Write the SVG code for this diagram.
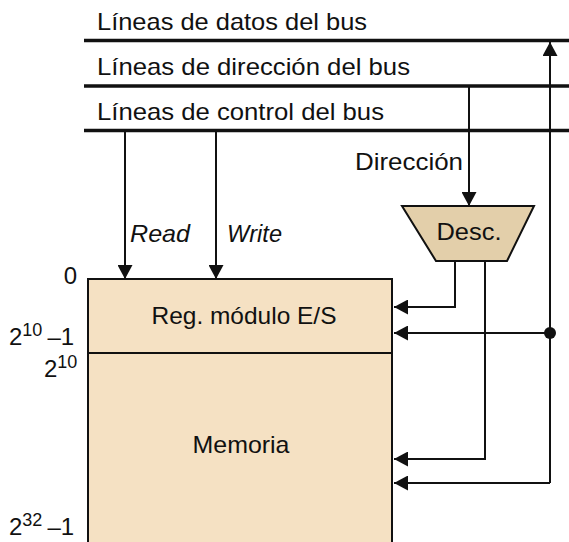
<svg xmlns="http://www.w3.org/2000/svg" width="569" height="542" viewBox="0 0 569 542">
<style>
text{font-family:"Liberation Sans",Arial,sans-serif;fill:#111}
.lbl{font-size:24px}
.sup{font-size:18px}
.bus{stroke:#111;stroke-width:3.5;fill:none}
.wire{stroke:#111;stroke-width:2;fill:none}
</style>
<defs>
<marker id="ah" markerUnits="userSpaceOnUse" markerWidth="15" markerHeight="15" refX="14" refY="7.5" orient="auto">
<path d="M0,0 L14,7.5 L0,15 z" fill="#111"/>
</marker>
</defs>
<g id="buses">
<line class="bus" x1="84" y1="40.5" x2="569" y2="40.5"/>
<line class="bus" x1="84" y1="86" x2="569" y2="86"/>
<line class="bus" x1="84" y1="130.5" x2="569" y2="130.5"/>
<text class="lbl" x="97" y="30" textLength="270" lengthAdjust="spacingAndGlyphs">Líneas de datos del bus</text>
<text class="lbl" x="97" y="75" textLength="313" lengthAdjust="spacingAndGlyphs">Líneas de dirección del bus</text>
<text class="lbl" x="97" y="120" textLength="287" lengthAdjust="spacingAndGlyphs">Líneas de control del bus</text>
</g>
<g id="memory">
<rect x="88" y="279" width="304" height="270" fill="#f5e1c3" stroke="#111" stroke-width="2"/>
<line x1="88" y1="353" x2="392" y2="353" stroke="#111" stroke-width="2"/>
<text class="lbl" x="244" y="324" text-anchor="middle" textLength="185" lengthAdjust="spacingAndGlyphs">Reg. módulo E/S</text>
<text class="lbl" x="241" y="453" text-anchor="middle" textLength="97" lengthAdjust="spacingAndGlyphs">Memoria</text>
</g>
<g id="decoder">
<polygon points="402,206 534,206 507,261 436,261" fill="#e3cfaa" stroke="#111" stroke-width="2"/>
<text class="lbl" x="469" y="240" text-anchor="middle" textLength="65" lengthAdjust="spacingAndGlyphs">Desc.</text>
</g>
<g id="addr-labels">
<text class="lbl" x="77" y="284" text-anchor="end">0</text>
<text x="9" y="345"><tspan class="lbl">2</tspan><tspan class="sup" dy="-9">10</tspan><tspan class="lbl" dy="9" dx="5">–1</tspan></text>
<text x="44" y="377"><tspan class="lbl">2</tspan><tspan class="sup" dy="-9">10</tspan></text>
<text x="9" y="535"><tspan class="lbl">2</tspan><tspan class="sup" dy="-9">32</tspan><tspan class="lbl" dy="9" dx="5">–1</tspan></text>
</g>
<g id="connectors">
<line class="wire" x1="125" y1="131" x2="125" y2="279" marker-end="url(#ah)"/>
<line class="wire" x1="216" y1="131" x2="216" y2="279" marker-end="url(#ah)"/>
<text class="lbl" x="130" y="242" font-style="italic" textLength="60" lengthAdjust="spacingAndGlyphs">Read</text>
<text class="lbl" x="227" y="242" font-style="italic" textLength="55" lengthAdjust="spacingAndGlyphs">Write</text>
<line class="wire" x1="469" y1="86" x2="469" y2="206" marker-end="url(#ah)"/>
<text class="lbl" x="355" y="170" textLength="108" lengthAdjust="spacingAndGlyphs">Dirección</text>
<polyline class="wire" points="455,261 455,307 394,307" marker-end="url(#ah)"/>
<polyline class="wire" points="485,261 485,459 394,459" marker-end="url(#ah)"/>
<polyline class="wire" points="550,483 550,42" marker-end="url(#ah)"/>
<polyline class="wire" points="550,483 394,483" marker-end="url(#ah)"/>
<line class="wire" x1="550" y1="333" x2="394" y2="333" marker-end="url(#ah)"/>
<circle cx="550" cy="333" r="6" fill="#111"/>
</g>
</svg>
